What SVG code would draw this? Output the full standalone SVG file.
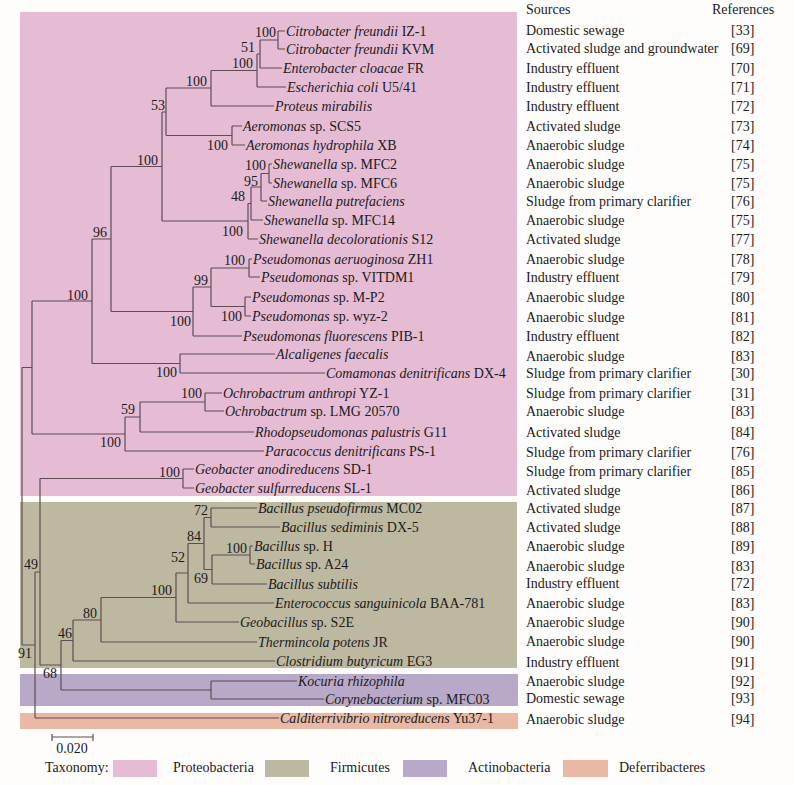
<svg xmlns="http://www.w3.org/2000/svg" width="794" height="785" viewBox="0 0 794 785">
<style>
.br{stroke:#5e4d52;stroke-width:1.2;fill:none}
text{font-family:"Liberation Serif","Times New Roman",serif;font-size:14px;fill:#1c1a1b}
.i{font-style:italic}
.bs{text-anchor:end}
</style>
<rect x="0" y="0" width="794" height="785" fill="#fefdfb"/>
<g id="bands">
<rect x="20" y="12" width="497" height="484" fill="#e5bcd4"/>
<rect x="20" y="502" width="497" height="166" fill="#bdb8a0"/>
<rect x="20" y="674" width="498" height="32" fill="#b9a9c9"/>
<rect x="20" y="713" width="498" height="16" fill="#e9b9a5"/>
</g>
<g id="connectors" class="br">
<path d="M278,31V49 M260,40V68 M257,54V87 M211,70.5V106 M232,126V145 M166,88V135.5 M269,164V183 M261,173.5V201 M251,187V220 M248,203.5V239 M162,112V221 M249,259V277 M245,297V316 M211,268V306.5 M193,287V336 M111,166.5V311.5 M180,354V373 M92,239V363.5 M205,393V411 M140,402V432 M125,417V451 M32,301V434 M183,469V488 M211,508V527 M250,546V564 M212,555V584 M204,517.5V569.5 M188,543.5V603 M176,573V622 M101,597.5V642 M73,620V661 M211,681V699 M61,640.5V690 M40,478.5V665 M35,572V718 M22,367.5V645"/>
<path d="M260,40H278 M257,54H260 M211,70.5H257 M166,88H211 M166,135.5H232 M162,112H166 M261,173.5H269 M251,187H261 M248,203.5H251 M162,221H248 M111,166.5H162 M211,268H249 M211,306.5H245 M193,287H211 M111,311.5H193 M92,239H111 M92,363.5H180 M32,301H92 M140,402H205 M125,417H140 M32,434H125 M22,367.5H32 M40,478.5H183 M204,517.5H211 M212,555H250 M204,569.5H212 M188,543.5H204 M176,573H188 M101,597.5H176 M73,620H101 M61,640.5H73 M61,690H211 M40,665H61 M35,572H40 M22,645H35"/>
<path d="M278,31H285 M278,49H285 M260,68H282 M257,87H286 M211,106H274 M232,126H242 M232,145H245 M269,164H272 M269,183H272 M261,201H267 M251,220H263 M248,239H258 M249,259H252 M249,277H260 M245,297H251 M245,316H251 M193,336H242 M180,354H275 M180,373H325 M205,393H222 M205,411H224 M140,432H254 M125,451H264 M183,469H194 M183,488H194 M211,508H257 M211,527H280 M250,546H253 M250,564H255 M212,584H267 M188,603H274 M176,622H239 M101,642H257 M73,661H275 M211,681H297 M211,699H324 M35,718H279"/>
</g>
<g id="bootstrap">
<text class="bs" x="276" y="37">100</text>
<text class="bs" x="255" y="52">51</text>
<text class="bs" x="253" y="68">100</text>
<text class="bs" x="207" y="86">100</text>
<text class="bs" x="165" y="110">53</text>
<text class="bs" x="228" y="150">100</text>
<text class="bs" x="158" y="165">100</text>
<text class="bs" x="266" y="170">100</text>
<text class="bs" x="258" y="186">95</text>
<text class="bs" x="245" y="201">48</text>
<text class="bs" x="243" y="236">100</text>
<text class="bs" x="107" y="237">96</text>
<text class="bs" x="245" y="265">100</text>
<text class="bs" x="208" y="285">99</text>
<text class="bs" x="88" y="300">100</text>
<text class="bs" x="242" y="321">100</text>
<text class="bs" x="191" y="326">100</text>
<text class="bs" x="177" y="377">100</text>
<text class="bs" x="202" y="398">100</text>
<text class="bs" x="135" y="414">59</text>
<text class="bs" x="121" y="447">100</text>
<text class="bs" x="180" y="477">100</text>
<text class="bs" x="208" y="515">72</text>
<text class="bs" x="201" y="541">84</text>
<text class="bs" x="247" y="553">100</text>
<text class="bs" x="185" y="562">52</text>
<text class="bs" x="38" y="569">49</text>
<text class="bs" x="208" y="583">69</text>
<text class="bs" x="172" y="595">100</text>
<text class="bs" x="97" y="618">80</text>
<text class="bs" x="72" y="638">46</text>
<text class="bs" x="32" y="658">91</text>
<text class="bs" x="57" y="678">68</text>
</g>
<g id="leaves">
<g id="leaf-01"><text x="286" y="36"><tspan class="i">Citrobacter freundii</tspan> IZ-1</text></g>
<g id="leaf-02"><text x="286" y="54"><tspan class="i">Citrobacter freundii</tspan> KVM</text></g>
<g id="leaf-03"><text x="283" y="73"><tspan class="i">Enterobacter cloacae</tspan> FR</text></g>
<g id="leaf-04"><text x="287" y="92"><tspan class="i">Escherichia coli</tspan> U5/41</text></g>
<g id="leaf-05"><text x="275" y="111"><tspan class="i">Proteus mirabilis</tspan></text></g>
<g id="leaf-06"><text x="243" y="131"><tspan class="i">Aeromonas</tspan> sp. SCS5</text></g>
<g id="leaf-07"><text x="246" y="150"><tspan class="i">Aeromonas hydrophila</tspan> XB</text></g>
<g id="leaf-08"><text x="273" y="169"><tspan class="i">Shewanella</tspan> sp. MFC2</text></g>
<g id="leaf-09"><text x="273" y="188"><tspan class="i">Shewanella</tspan> sp. MFC6</text></g>
<g id="leaf-10"><text x="268" y="206"><tspan class="i">Shewanella putrefaciens</tspan></text></g>
<g id="leaf-11"><text x="264" y="225"><tspan class="i">Shewanella</tspan> sp. MFC14</text></g>
<g id="leaf-12"><text x="259" y="244"><tspan class="i">Shewanella decolorationis</tspan> S12</text></g>
<g id="leaf-13"><text x="253" y="264"><tspan class="i">Pseudomonas aeruoginosa</tspan> ZH1</text></g>
<g id="leaf-14"><text x="261" y="282"><tspan class="i">Pseudomonas</tspan> sp. VITDM1</text></g>
<g id="leaf-15"><text x="252" y="302"><tspan class="i">Pseudomonas</tspan> sp. M-P2</text></g>
<g id="leaf-16"><text x="252" y="321"><tspan class="i">Pseudomonas</tspan> sp. wyz-2</text></g>
<g id="leaf-17"><text x="243" y="341"><tspan class="i">Pseudomonas fluorescens</tspan> PIB-1</text></g>
<g id="leaf-18"><text x="276" y="359"><tspan class="i">Alcaligenes faecalis</tspan></text></g>
<g id="leaf-19"><text x="326" y="378"><tspan class="i">Comamonas denitrificans</tspan> DX-4</text></g>
<g id="leaf-20"><text x="223" y="398"><tspan class="i">Ochrobactrum anthropi</tspan> YZ-1</text></g>
<g id="leaf-21"><text x="225" y="416"><tspan class="i">Ochrobactrum</tspan> sp. LMG 20570</text></g>
<g id="leaf-22"><text x="255" y="437"><tspan class="i">Rhodopseudomonas palustris</tspan> G11</text></g>
<g id="leaf-23"><text x="265" y="456"><tspan class="i">Paracoccus denitrificans</tspan> PS-1</text></g>
<g id="leaf-24"><text x="195" y="474"><tspan class="i">Geobacter anodireducens</tspan> SD-1</text></g>
<g id="leaf-25"><text x="195" y="493"><tspan class="i">Geobacter sulfurreducens</tspan> SL-1</text></g>
<g id="leaf-26"><text x="258" y="513"><tspan class="i">Bacillus pseudofirmus</tspan> MC02</text></g>
<g id="leaf-27"><text x="281" y="532"><tspan class="i">Bacillus sediminis</tspan> DX-5</text></g>
<g id="leaf-28"><text x="254" y="551"><tspan class="i">Bacillus</tspan> sp. H</text></g>
<g id="leaf-29"><text x="256" y="569"><tspan class="i">Bacillus</tspan> sp. A24</text></g>
<g id="leaf-30"><text x="268" y="589"><tspan class="i">Bacillus subtilis</tspan></text></g>
<g id="leaf-31"><text x="275" y="608"><tspan class="i">Enterococcus sanguinicola</tspan> BAA-781</text></g>
<g id="leaf-32"><text x="240" y="627"><tspan class="i">Geobacillus</tspan> sp. S2E</text></g>
<g id="leaf-33"><text x="258" y="647"><tspan class="i">Thermincola potens</tspan> JR</text></g>
<g id="leaf-34"><text x="276" y="666"><tspan class="i">Clostridium butyricum</tspan> EG3</text></g>
<g id="leaf-35"><text x="298" y="686"><tspan class="i">Kocuria rhizophila</tspan></text></g>
<g id="leaf-36"><text x="325" y="704"><tspan class="i">Corynebacterium</tspan> sp. MFC03</text></g>
<g id="leaf-37"><text x="280" y="723"><tspan class="i">Calditerrivibrio nitroreducens</tspan> Yu37-1</text></g>
</g>
<g id="sources">
<text x="526" y="14">Sources</text>
<text x="526" y="35">Domestic sewage</text>
<text x="526" y="53">Activated sludge and groundwater</text>
<text x="526" y="73">Industry effluent</text>
<text x="526" y="92">Industry effluent</text>
<text x="526" y="111">Industry effluent</text>
<text x="526" y="131">Activated sludge</text>
<text x="526" y="150">Anaerobic sludge</text>
<text x="526" y="169">Anaerobic sludge</text>
<text x="526" y="188">Anaerobic sludge</text>
<text x="526" y="206">Sludge from primary clarifier</text>
<text x="526" y="225">Anaerobic sludge</text>
<text x="526" y="244">Activated sludge</text>
<text x="526" y="264">Anaerobic sludge</text>
<text x="526" y="282">Industry effluent</text>
<text x="526" y="302">Anaerobic sludge</text>
<text x="526" y="322">Anaerobic sludge</text>
<text x="526" y="341">Industry effluent</text>
<text x="526" y="361">Anaerobic sludge</text>
<text x="526" y="378">Sludge from primary clarifier</text>
<text x="526" y="398">Sludge from primary clarifier</text>
<text x="526" y="416">Anaerobic sludge</text>
<text x="526" y="437">Activated sludge</text>
<text x="526" y="457">Sludge from primary clarifier</text>
<text x="526" y="476">Sludge from primary clarifier</text>
<text x="526" y="495">Activated sludge</text>
<text x="526" y="513">Activated sludge</text>
<text x="526" y="532">Activated sludge</text>
<text x="526" y="551">Anaerobic sludge</text>
<text x="526" y="571">Anaerobic sludge</text>
<text x="526" y="588">Industry effluent</text>
<text x="526" y="608">Anaerobic sludge</text>
<text x="526" y="627">Anaerobic sludge</text>
<text x="526" y="646">Anaerobic sludge</text>
<text x="526" y="667">Industry effluent</text>
<text x="526" y="686">Anaerobic sludge</text>
<text x="526" y="703">Domestic sewage</text>
<text x="526" y="724">Anaerobic sludge</text>
</g>
<g id="references">
<text x="712" y="14">References</text>
<text x="731" y="35">[33]</text>
<text x="731" y="53">[69]</text>
<text x="731" y="73">[70]</text>
<text x="731" y="92">[71]</text>
<text x="731" y="111">[72]</text>
<text x="731" y="131">[73]</text>
<text x="731" y="150">[74]</text>
<text x="731" y="169">[75]</text>
<text x="731" y="188">[75]</text>
<text x="731" y="206">[76]</text>
<text x="731" y="225">[75]</text>
<text x="731" y="244">[77]</text>
<text x="731" y="264">[78]</text>
<text x="731" y="282">[79]</text>
<text x="731" y="302">[80]</text>
<text x="731" y="322">[81]</text>
<text x="731" y="341">[82]</text>
<text x="731" y="361">[83]</text>
<text x="731" y="378">[30]</text>
<text x="731" y="398">[31]</text>
<text x="731" y="416">[83]</text>
<text x="731" y="437">[84]</text>
<text x="731" y="457">[76]</text>
<text x="731" y="476">[85]</text>
<text x="731" y="495">[86]</text>
<text x="731" y="513">[87]</text>
<text x="731" y="532">[88]</text>
<text x="731" y="551">[89]</text>
<text x="731" y="571">[83]</text>
<text x="731" y="588">[72]</text>
<text x="731" y="608">[83]</text>
<text x="731" y="627">[90]</text>
<text x="731" y="646">[90]</text>
<text x="731" y="667">[91]</text>
<text x="731" y="686">[92]</text>
<text x="731" y="703">[93]</text>
<text x="731" y="724">[94]</text>
</g>
<g id="scale-bar">
<path class="br" d="M52,737H93 M52,734V741 M93,734V741"/>
<text x="72" y="753" text-anchor="middle">0.020</text>
</g>
<g id="legend">
<text x="45" y="772">Taxonomy:</text>
<rect x="113" y="760" width="44" height="17" fill="#e5bcd4"/>
<text x="173" y="772">Proteobacteria</text>
<rect x="265" y="760" width="44" height="17" fill="#bdb8a0"/>
<text x="330" y="772">Firmicutes</text>
<rect x="403" y="760" width="44" height="17" fill="#b9a9c9"/>
<text x="468" y="772">Actinobacteria</text>
<rect x="563" y="760" width="45" height="17" fill="#e9b9a5"/>
<text x="619" y="772">Deferribacteres</text>
</g>
</svg>
